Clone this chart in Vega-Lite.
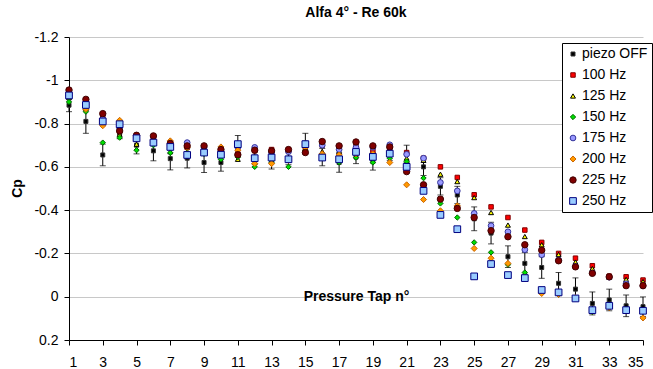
{
  "$schema": "https://vega.github.io/schema/vega-lite/v6.json",
  "autosize": "none",
  "width": 574,
  "height": 303,
  "padding": {"left": 69, "top": 37, "right": 10, "bottom": 29},
  "background": "white",
  "title": {
    "text": "Alfa 4° - Re 60k",
    "font": "Liberation Sans",
    "fontSize": 14,
    "fontWeight": "bold",
    "color": "black",
    "anchor": "middle",
    "offset": 10
  },
  "config": {
    "view": {"stroke": null},
    "font": "Liberation Sans",
    "axis": {
      "labelFont": "Liberation Sans",
      "labelFontSize": 14,
      "labelColor": "black",
      "titleFont": "Liberation Sans",
      "titleFontSize": 14,
      "titleFontWeight": "bold",
      "titleColor": "black",
      "domainColor": "black",
      "tickColor": "black",
      "tickSize": 5
    },
    "legend": {
      "orient": "none",
      "legendX": 493,
      "legendY": 6,
      "fillColor": "white",
      "strokeColor": "black",
      "padding": 4,
      "labelFont": "Liberation Sans",
      "labelFontSize": 14,
      "labelColor": "black",
      "labelOffset": 2,
      "rowPadding": 7,
      "symbolStrokeWidth": 1
    }
  },
  "data": {
    "values": [
      {"tap": 1, "piezo OFF": -0.885, "err": 0.03, "100 Hz": -0.94, "125 Hz": -0.92, "150 Hz": -0.9, "175 Hz": -0.93, "200 Hz": -0.94, "225 Hz": -0.955, "250 Hz": -0.93},
      {"tap": 2, "piezo OFF": -0.81, "err": 0.055, "100 Hz": -0.9, "125 Hz": -0.87, "150 Hz": -0.855, "175 Hz": -0.89, "200 Hz": -0.866, "225 Hz": -0.912, "250 Hz": -0.886},
      {"tap": 3, "piezo OFF": -0.655, "err": 0.05, "100 Hz": -0.828, "125 Hz": -0.82, "150 Hz": -0.712, "175 Hz": -0.82, "200 Hz": -0.79, "225 Hz": -0.846, "250 Hz": -0.81},
      {"tap": 4, "piezo OFF": -0.755, "err": 0.025, "100 Hz": -0.766, "125 Hz": -0.75, "150 Hz": -0.735, "175 Hz": -0.78, "200 Hz": -0.815, "225 Hz": -0.766, "250 Hz": -0.797},
      {"tap": 5, "piezo OFF": -0.7, "err": 0.04, "100 Hz": -0.74, "125 Hz": -0.705, "150 Hz": -0.677, "175 Hz": -0.735, "200 Hz": -0.745, "225 Hz": -0.746, "250 Hz": -0.732},
      {"tap": 6, "piezo OFF": -0.674, "err": 0.046, "100 Hz": -0.73, "125 Hz": -0.71, "150 Hz": -0.7, "175 Hz": -0.72, "200 Hz": -0.72, "225 Hz": -0.743, "250 Hz": -0.712},
      {"tap": 7, "piezo OFF": -0.638, "err": 0.052, "100 Hz": -0.7, "125 Hz": -0.67, "150 Hz": -0.665, "175 Hz": -0.7, "200 Hz": -0.72, "225 Hz": -0.708, "250 Hz": -0.692},
      {"tap": 8, "piezo OFF": -0.64, "err": 0.045, "100 Hz": -0.69, "125 Hz": -0.67, "150 Hz": -0.666, "175 Hz": -0.712, "200 Hz": -0.69, "225 Hz": -0.697, "250 Hz": -0.655},
      {"tap": 9, "piezo OFF": -0.62, "err": 0.046, "100 Hz": -0.685, "125 Hz": -0.67, "150 Hz": -0.66, "175 Hz": -0.69, "200 Hz": -0.675, "225 Hz": -0.697, "250 Hz": -0.666},
      {"tap": 10, "piezo OFF": -0.62, "err": 0.04, "100 Hz": -0.67, "125 Hz": -0.665, "150 Hz": -0.635, "175 Hz": -0.67, "200 Hz": -0.692, "225 Hz": -0.68, "250 Hz": -0.656},
      {"tap": 11, "piezo OFF": -0.7, "err": 0.045, "100 Hz": -0.66, "125 Hz": -0.635, "150 Hz": -0.645, "175 Hz": -0.69, "200 Hz": -0.677, "225 Hz": -0.656, "250 Hz": -0.705},
      {"tap": 12, "piezo OFF": -0.645, "err": 0.03, "100 Hz": -0.675, "125 Hz": -0.62, "150 Hz": -0.6, "175 Hz": -0.69, "200 Hz": -0.615, "225 Hz": -0.677, "250 Hz": -0.64},
      {"tap": 13, "piezo OFF": -0.63, "err": 0.04, "100 Hz": -0.68, "125 Hz": -0.625, "150 Hz": -0.62, "175 Hz": -0.665, "200 Hz": -0.615, "225 Hz": -0.674, "250 Hz": -0.643},
      {"tap": 14, "piezo OFF": -0.64, "err": 0.03, "100 Hz": -0.675, "125 Hz": -0.63, "150 Hz": -0.6, "175 Hz": -0.67, "200 Hz": -0.63, "225 Hz": -0.68, "250 Hz": -0.635},
      {"tap": 15, "piezo OFF": -0.71, "err": 0.045, "100 Hz": -0.68, "125 Hz": -0.67, "150 Hz": -0.675, "175 Hz": -0.7, "200 Hz": -0.69, "225 Hz": -0.666, "250 Hz": -0.705},
      {"tap": 16, "piezo OFF": -0.645, "err": 0.04, "100 Hz": -0.7, "125 Hz": -0.671, "150 Hz": -0.655, "175 Hz": -0.7, "200 Hz": -0.66, "225 Hz": -0.717, "250 Hz": -0.643},
      {"tap": 17, "piezo OFF": -0.62, "err": 0.045, "100 Hz": -0.69, "125 Hz": -0.671, "150 Hz": -0.62, "175 Hz": -0.68, "200 Hz": -0.655, "225 Hz": -0.697, "250 Hz": -0.635},
      {"tap": 18, "piezo OFF": -0.645, "err": 0.03, "100 Hz": -0.7, "125 Hz": -0.68, "150 Hz": -0.643, "175 Hz": -0.69, "200 Hz": -0.66, "225 Hz": -0.715, "250 Hz": -0.669},
      {"tap": 19, "piezo OFF": -0.625, "err": 0.04, "100 Hz": -0.675, "125 Hz": -0.66, "150 Hz": -0.62, "175 Hz": -0.69, "200 Hz": -0.66, "225 Hz": -0.697, "250 Hz": -0.646},
      {"tap": 20, "piezo OFF": -0.66, "err": 0.03, "100 Hz": -0.68, "125 Hz": -0.67, "150 Hz": -0.64, "175 Hz": -0.702, "200 Hz": -0.62, "225 Hz": -0.692, "250 Hz": -0.661},
      {"tap": 21, "piezo OFF": -0.66, "err": 0.04, "100 Hz": -0.666, "125 Hz": -0.64, "150 Hz": -0.625, "175 Hz": -0.658, "200 Hz": -0.517, "225 Hz": -0.578, "250 Hz": -0.6},
      {"tap": 22, "piezo OFF": -0.6, "err": 0.04, "100 Hz": -0.64, "125 Hz": -0.63, "150 Hz": -0.548, "175 Hz": -0.64, "200 Hz": -0.449, "225 Hz": -0.517, "250 Hz": -0.489},
      {"tap": 23, "piezo OFF": -0.51, "err": 0.04, "100 Hz": -0.6, "125 Hz": -0.566, "150 Hz": -0.431, "175 Hz": -0.528, "200 Hz": -0.397, "225 Hz": -0.451, "250 Hz": -0.378},
      {"tap": 24, "piezo OFF": -0.47, "err": 0.04, "100 Hz": -0.551, "125 Hz": -0.532, "150 Hz": -0.366, "175 Hz": -0.489, "200 Hz": -0.42, "225 Hz": -0.408, "250 Hz": -0.312},
      {"tap": 25, "piezo OFF": -0.36, "err": 0.055, "100 Hz": -0.471, "125 Hz": -0.458, "150 Hz": -0.251, "175 Hz": -0.385, "200 Hz": -0.223, "225 Hz": -0.366, "250 Hz": -0.094},
      {"tap": 26, "piezo OFF": -0.294, "err": 0.05, "100 Hz": -0.415, "125 Hz": -0.389, "150 Hz": -0.205, "175 Hz": -0.328, "200 Hz": -0.178, "225 Hz": -0.305, "250 Hz": -0.151},
      {"tap": 27, "piezo OFF": -0.185, "err": 0.05, "100 Hz": -0.366, "125 Hz": -0.331, "150 Hz": -0.148, "175 Hz": -0.3, "200 Hz": -0.154, "225 Hz": -0.277, "250 Hz": -0.1},
      {"tap": 28, "piezo OFF": -0.154, "err": 0.05, "100 Hz": -0.308, "125 Hz": -0.278, "150 Hz": -0.112, "175 Hz": -0.217, "200 Hz": -0.09, "225 Hz": -0.24, "250 Hz": -0.086},
      {"tap": 29, "piezo OFF": -0.135, "err": 0.05, "100 Hz": -0.251, "125 Hz": -0.24, "150 Hz": -0.02, "175 Hz": -0.194, "200 Hz": -0.015, "225 Hz": -0.215, "250 Hz": -0.031},
      {"tap": 30, "piezo OFF": -0.062, "err": 0.05, "100 Hz": -0.2, "125 Hz": -0.195, "150 Hz": -0.01, "175 Hz": -0.17, "200 Hz": -0.01, "225 Hz": -0.166, "250 Hz": -0.02},
      {"tap": 31, "piezo OFF": -0.035, "err": 0.052, "100 Hz": -0.178, "125 Hz": -0.16, "150 Hz": 0.005, "175 Hz": -0.14, "200 Hz": 0.005, "225 Hz": -0.138, "250 Hz": 0.008},
      {"tap": 32, "piezo OFF": 0.031, "err": 0.053, "100 Hz": -0.143, "125 Hz": -0.13, "150 Hz": 0.07, "175 Hz": -0.11, "200 Hz": 0.065, "225 Hz": -0.108, "250 Hz": 0.062},
      {"tap": 33, "piezo OFF": 0.015, "err": 0.05, "100 Hz": -0.095, "125 Hz": -0.09, "150 Hz": 0.04, "175 Hz": -0.09, "200 Hz": 0.05, "225 Hz": -0.092, "250 Hz": 0.042},
      {"tap": 34, "piezo OFF": 0.042, "err": 0.05, "100 Hz": -0.092, "125 Hz": -0.08, "150 Hz": 0.06, "175 Hz": -0.06, "200 Hz": 0.065, "225 Hz": -0.051, "250 Hz": 0.062},
      {"tap": 35, "piezo OFF": 0.046, "err": 0.045, "100 Hz": -0.077, "125 Hz": -0.07, "150 Hz": 0.07, "175 Hz": -0.05, "200 Hz": 0.098, "225 Hz": -0.051, "250 Hz": 0.065}
    ]
  },
  "encoding": {
    "x": {
      "field": "tap", "type": "quantitative",
      "scale": {"domain": [1, 35], "nice": false, "zero": false},
      "axis": {
        "title": "Pressure Tap n°",
        "values": [1, 3, 5, 7, 9, 11, 13, 15, 17, 19, 21, 23, 25, 27, 29, 31, 33, 35],
        "grid": false,
        "labelPadding": 10,
        "titleY": -44,
        "titleBaseline": "middle"
      }
    }
  },
  "layer": [
    {
      "mark": {"type": "errorbar", "color": "black", "thickness": 1, "ticks": {"size": 6, "color": "black"}},
      "encoding": {
        "y": {
          "field": "piezo OFF", "type": "quantitative",
          "scale": {"domain": [-1.2, 0.2], "reverse": true, "nice": false, "zero": false},
          "title": "Cp"
        },
        "yError": {"field": "err"}
      }
    },
    {
      "transform": [
        {"fold": ["piezo OFF", "100 Hz", "125 Hz", "150 Hz", "175 Hz", "200 Hz", "225 Hz", "250 Hz"], "as": ["series", "cp"]}
      ],
      "mark": {"type": "point", "filled": true, "strokeWidth": 1, "opacity": 1},
      "encoding": {
        "y": {
          "field": "cp", "type": "quantitative",
          "scale": {"domain": [-1.2, 0.2], "reverse": true, "nice": false, "zero": false},
          "title": "Cp",
          "axis": {
            "title": "Cp",
            "values": [-1.2, -1, -0.8, -0.6, -0.4, -0.2, 0, 0.2],
            "labelExpr": "datum.value < 0 ? '-' + format(-datum.value, '~g') : format(datum.value, '~g')",
            "grid": true,
            "gridColor": "#c8c8c8",
            "gridWidth": 1,
            "labelPadding": 6,
            "titleX": -52,
            "titleY": 151,
            "titleAngle": 270,
            "titleAlign": "center",
            "titleBaseline": "middle"
          }
        },
        "shape": {
          "field": "series", "type": "nominal", "title": null,
          "sort": ["piezo OFF", "100 Hz", "125 Hz", "150 Hz", "175 Hz", "200 Hz", "225 Hz", "250 Hz"],
          "scale": {
            "domain": ["piezo OFF", "100 Hz", "125 Hz", "150 Hz", "175 Hz", "200 Hz", "225 Hz", "250 Hz"],
            "range": ["square", "square", "triangle-up", "diamond", "circle", "diamond", "circle", "square"]
          }
        },
        "fill": {
          "field": "series", "type": "nominal", "title": null,
          "sort": ["piezo OFF", "100 Hz", "125 Hz", "150 Hz", "175 Hz", "200 Hz", "225 Hz", "250 Hz"],
          "scale": {
            "domain": ["piezo OFF", "100 Hz", "125 Hz", "150 Hz", "175 Hz", "200 Hz", "225 Hz", "250 Hz"],
            "range": ["#000000", "#ff0000", "#ffff00", "#00dd00", "#9999ff", "#ff9900", "#800000", "#99ccff"]
          }
        },
        "stroke": {
          "field": "series", "type": "nominal", "title": null,
          "sort": ["piezo OFF", "100 Hz", "125 Hz", "150 Hz", "175 Hz", "200 Hz", "225 Hz", "250 Hz"],
          "scale": {
            "domain": ["piezo OFF", "100 Hz", "125 Hz", "150 Hz", "175 Hz", "200 Hz", "225 Hz", "250 Hz"],
            "range": ["#333333", "#800000", "#000000", "#006600", "#333399", "#cc6600", "#400000", "#000080"]
          }
        },
        "size": {
          "field": "series", "type": "nominal", "title": null,
          "sort": ["piezo OFF", "100 Hz", "125 Hz", "150 Hz", "175 Hz", "200 Hz", "225 Hz", "250 Hz"],
          "scale": {
            "domain": ["piezo OFF", "100 Hz", "125 Hz", "150 Hz", "175 Hz", "200 Hz", "225 Hz", "250 Hz"],
            "range": [16, 45, 58, 40, 52, 40, 52, 45]
          }
        }
      }
    }
  ]
}
